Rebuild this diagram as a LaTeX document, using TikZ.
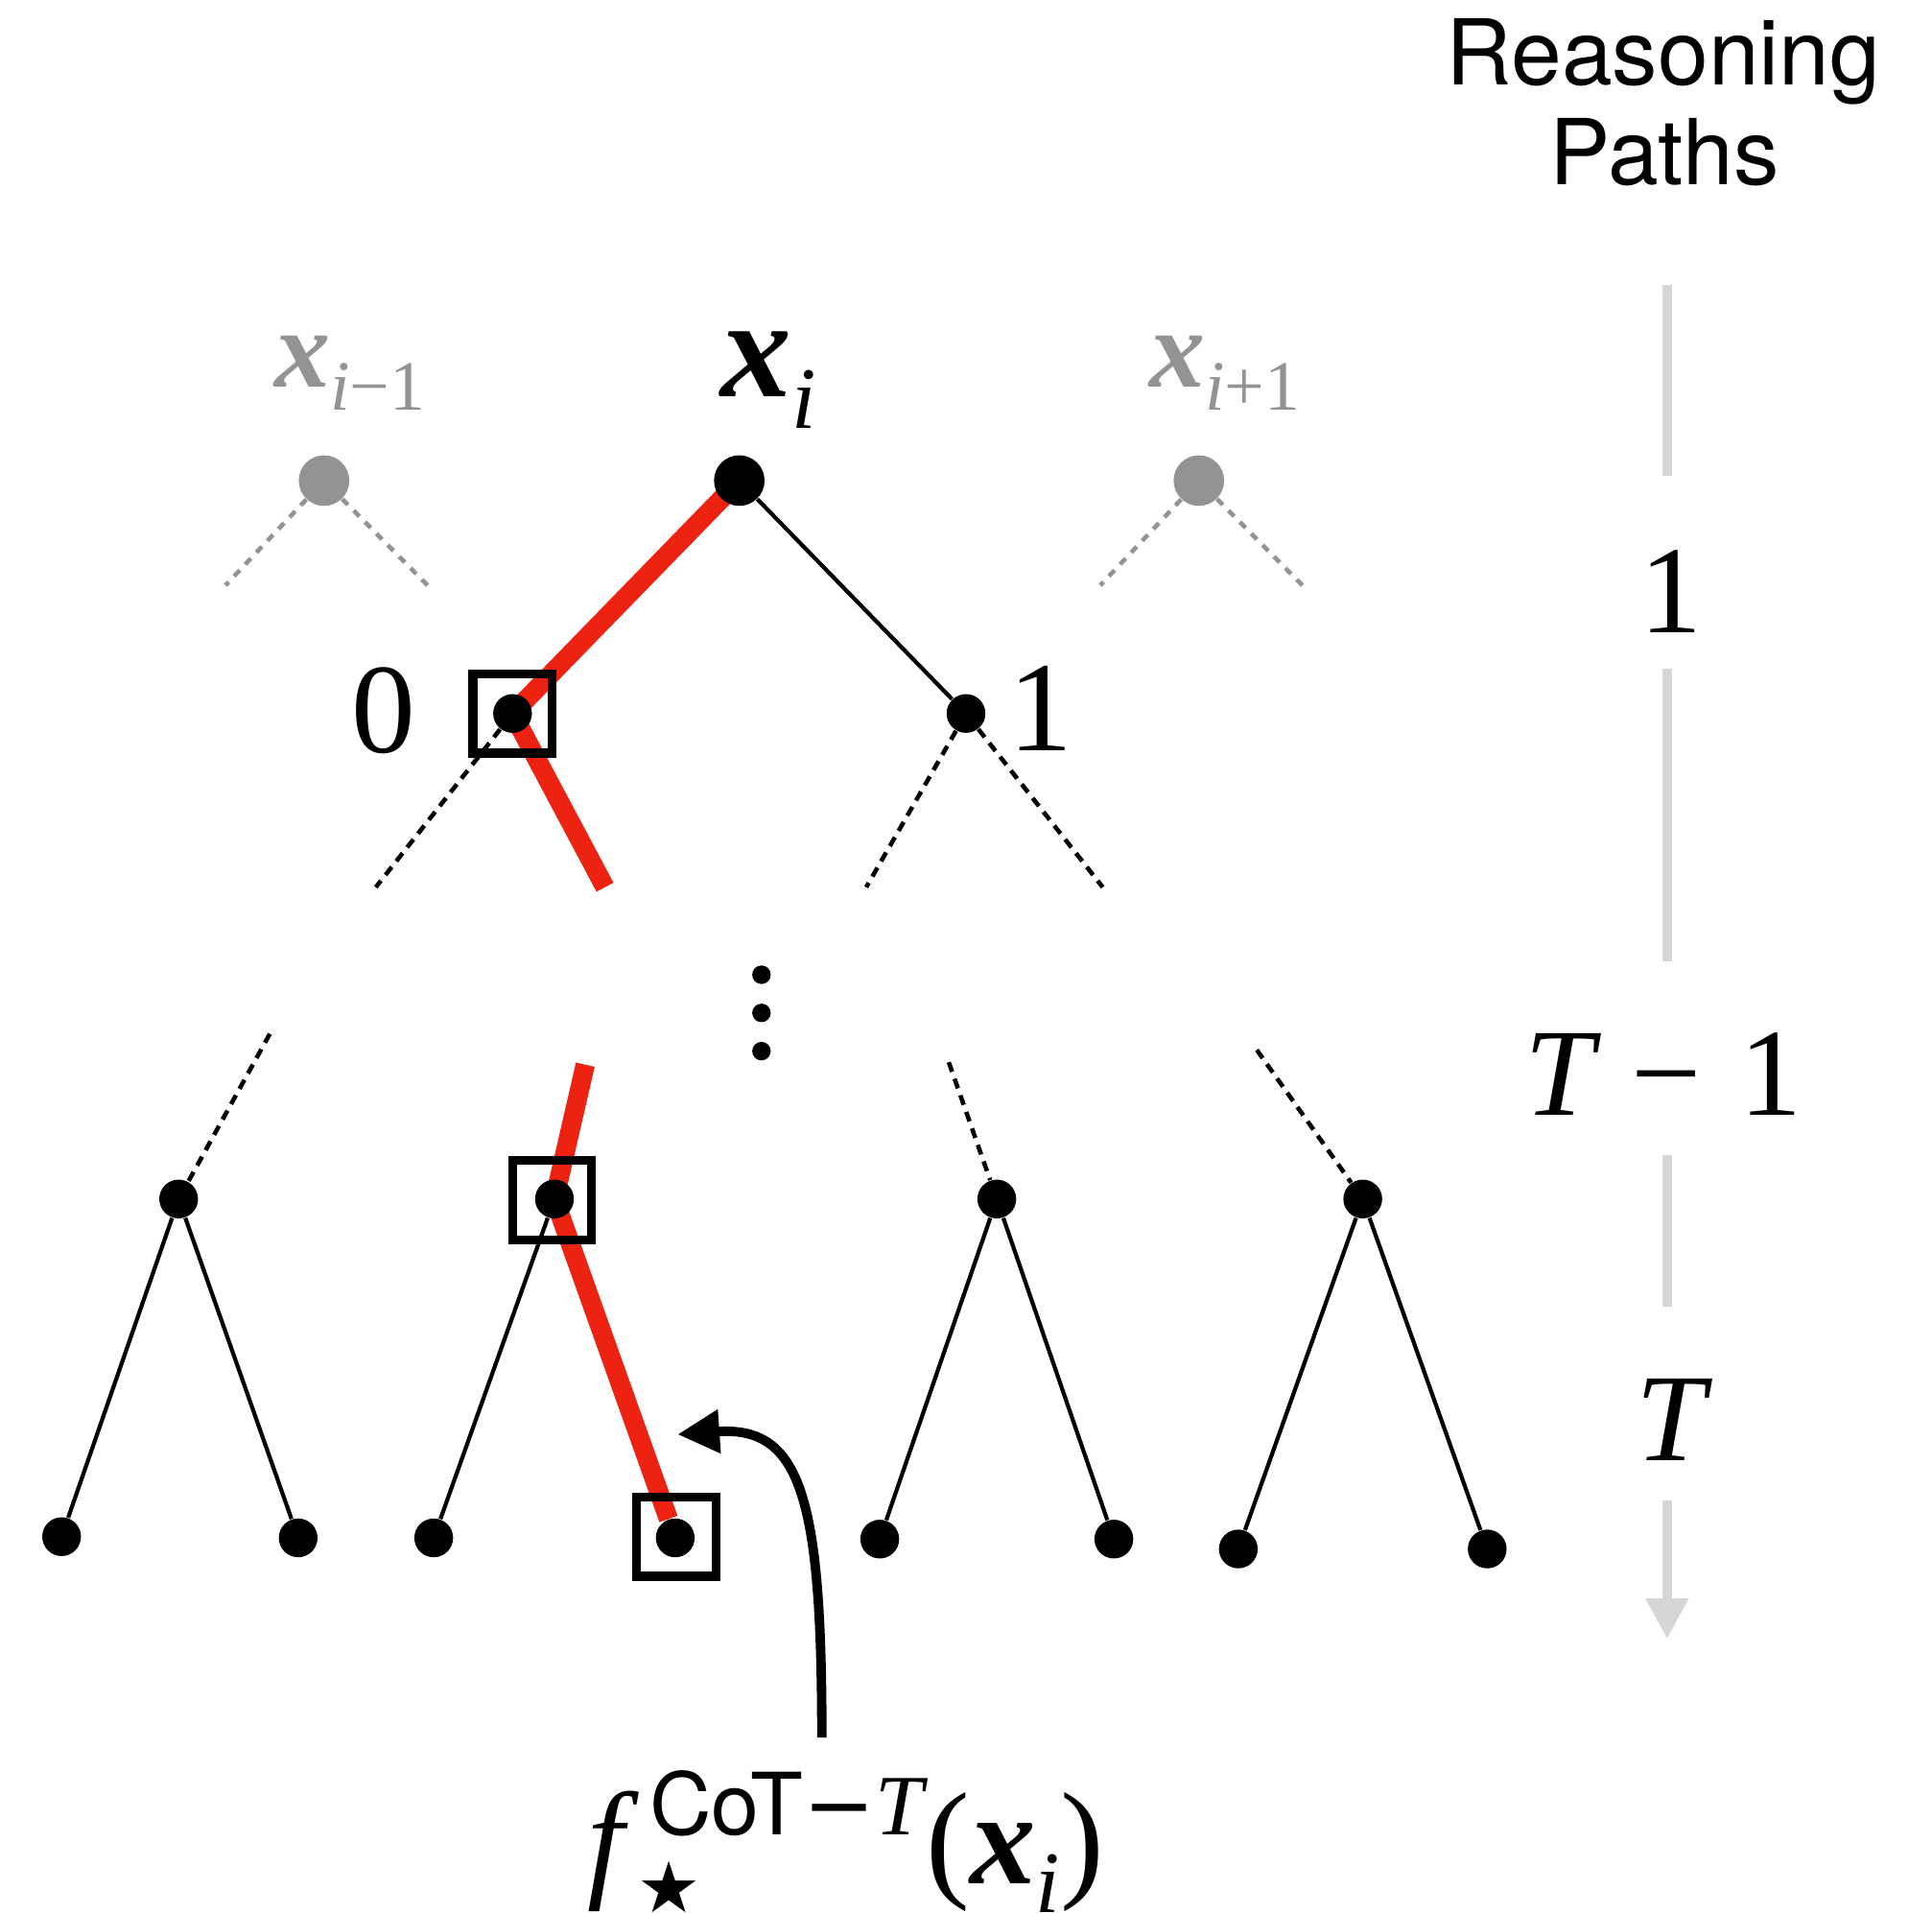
\documentclass[tikz,border=0pt]{standalone}
\usepackage{fontspec}
\setmainfont{Liberation Serif}
\newfontfamily\sansf{TeX Gyre Heros}
\newfontfamily\djv{DejaVu Sans}
\usetikzlibrary{arrows.meta}
\pgfdeclarelayer{bg}
\pgfsetlayers{bg,main}
\definecolor{redpath}{HTML}{EE2211}
\definecolor{ghost}{HTML}{939393}
\definecolor{axisgray}{HTML}{D6D6D6}
\begin{document}
\begin{tikzpicture}[x=0.012844cm,y=-0.012844cm,
  dotn/.style={circle,fill=black,inner sep=0,minimum size=11.5pt},
  bigdot/.style={circle,fill=black,inner sep=0,minimum size=15pt},
  gdot/.style={circle,fill=ghost,inner sep=0,minimum size=15pt},
  tinydot/.style={circle,fill=black,inner sep=0,minimum size=5.5pt},
  treeline/.style={line width=1.2pt},
  dline/.style={line width=1.3pt,dash pattern=on 3pt off 2.2pt},
  gline/.style={line width=1.3pt,ghost,dash pattern=on 2.4pt off 2.4pt},
  redp/.style={line width=5.7pt,redpath},
  selbox/.style={draw,line width=2.6pt,inner sep=0,minimum size=23.5pt},
  axisline/.style={line width=2.9pt,axisgray},
  txt/.style={inner sep=0,outer sep=0}
]
\useasboundingbox (0,0) rectangle (1568,1552);

% top nodes
\node[gdot] (gl) at (263,390) {};
\node[bigdot] (root) at (600,390) {};
\node[gdot] (gr) at (973,390) {};
\coordinate (gl1) at (183,475);
\coordinate (gl2) at (347,475);
\coordinate (gr1) at (893,475);
\coordinate (gr2) at (1057,475);

% level 1
\node[dotn] (a) at (416,579) {};
\node[dotn] (b) at (784,579) {};
\coordinate (a1) at (305,720);
\coordinate (a2) at (491,720);
\coordinate (b1) at (703,720);
\coordinate (b2) at (895,720);

% vertical ellipsis
\node[tinydot] (v1) at (618,791) {};
\node[tinydot] (v2) at (618,822) {};
\node[tinydot] (v3) at (618,853) {};

% level T-1
\node[dotn] (c) at (145,973) {};
\node[dotn] (d) at (450,973) {};
\node[dotn] (e) at (809,973) {};
\node[dotn] (g) at (1106,973) {};
\coordinate (ct) at (219,839);
\coordinate (dt) at (475,864);
\coordinate (et) at (770,862);
\coordinate (gt) at (1020,852);

% leaves
\node[dotn] (c1) at (50,1247) {};
\node[dotn] (c2) at (242,1248) {};
\node[dotn] (d1) at (352,1248) {};
\node[dotn] (d2) at (548,1248) {};
\node[dotn] (e1) at (714,1249) {};
\node[dotn] (e2) at (904,1249) {};
\node[dotn] (g1) at (1005,1257) {};
\node[dotn] (g2) at (1207,1257) {};

% selection boxes
\node[selbox] (sa) at (416,579) {};
\node[selbox] (sd) at (448,974) {};
\node[selbox] (sd2) at (549,1247) {};

\begin{pgfonlayer}{bg}
  \draw[gline] (gl) -- (gl1);
  \draw[gline] (gl) -- (gl2);
  \draw[gline] (gr) -- (gr1);
  \draw[gline] (gr) -- (gr2);
  \draw[treeline] (root) -- (b);
  \draw[dline] (a) -- (a1);
  \draw[dline] (b) -- (b1);
  \draw[dline] (b) -- (b2);
  \draw[dline] (ct) -- (c);
  \draw[dline] (et) -- (e);
  \draw[dline] (gt) -- (g);
  \draw[treeline] (c) -- (c1);
  \draw[treeline] (c) -- (c2);
  \draw[treeline] (d) -- (d1);
  \draw[treeline] (e) -- (e1);
  \draw[treeline] (e) -- (e2);
  \draw[treeline] (g) -- (g1);
  \draw[treeline] (g) -- (g2);
  \draw[redp] (root.center) -- (a.center) -- (a2);
  \draw[redp] (dt) -- (d.center) -- (d2);
\end{pgfonlayer}

% labels of the tree
\node[txt,anchor=base west,text=ghost] (lxm) at (223,314)
  {\fontsize{33}{33}\selectfont\bfseries\itshape x\mdseries\raisebox{-7pt}{\fontsize{21}{21}\selectfont i\upshape −1}};
\node[txt,anchor=base west] (lxi) at (585,322)
  {\fontsize{42}{42}\selectfont\bfseries\itshape x\mdseries\raisebox{-9.5pt}{\fontsize{26}{26}\selectfont i}};
\node[txt,anchor=base west,text=ghost] (lxp) at (933,314)
  {\fontsize{33}{33}\selectfont\bfseries\itshape x\mdseries\raisebox{-7pt}{\fontsize{21}{21}\selectfont i\upshape +1}};
\node[txt,font=\fontsize{38}{38}\selectfont] (l0) at (311,577) {0};
\node[txt,font=\fontsize{38}{38}\selectfont] (l1) at (845,575) {1};

% curved arrow and result label
\coordinate (arrstart) at (667,1410);
\coordinate (arrtip) at (550,1164);
\draw[line width=2.8pt,-{Triangle[length=12.4pt,width=12.4pt]}]
  (arrstart) .. controls (667,1215) and (650,1157) .. (arrtip);
\node[txt,anchor=base west] (lf) at (477,1529)
  {\fontsize{39}{39}\selectfont\itshape f\rlap{\hspace{4pt}\raisebox{-8.5pt}{\upshape\djv\fontsize{21}{21}\selectfont ★}}\hspace{7.5pt}\raisebox{14.5pt}{\upshape\fontsize{25.5}{25.5}\selectfont{\sansf CoT}{\djv −}\itshape T}\hspace{1pt}\upshape(\bfseries\itshape x\mdseries\raisebox{-8.5pt}{\fontsize{26}{26}\selectfont i}\upshape)};

% right column
\node[txt,anchor=base,font=\sansf\fontsize{27}{27}\selectfont] (rt1) at (1350,69) {Reasoning};
\node[txt,anchor=base,font=\sansf\fontsize{27}{27}\selectfont] (rt2) at (1351,150) {Paths};
\coordinate (ax1a) at (1353,231);
\coordinate (ax1b) at (1353,386);
\coordinate (ax2a) at (1353,543);
\coordinate (ax2b) at (1353,780);
\coordinate (ax3a) at (1353,937);
\coordinate (ax3b) at (1353,1060);
\coordinate (ax4a) at (1353,1218);
\coordinate (ax4b) at (1353,1330);
\draw[axisline] (ax1a) -- (ax1b);
\draw[axisline] (ax2a) -- (ax2b);
\draw[axisline] (ax3a) -- (ax3b);
\draw[axisline,-{Triangle[length=12pt,width=12pt]}] (ax4a) -- (ax4b);
\node[txt,font=\fontsize{37}{37}\selectfont] (ra) at (1356,480) {1};
\node[txt,font=\fontsize{37}{37}\selectfont] (rb) at (1350,872) {\itshape T\upshape\hspace{0.3em}−\hspace{0.3em}1};
\node[txt,font=\fontsize{37}{37}\selectfont] (rc) at (1356,1152) {\itshape T};
\end{tikzpicture}
\end{document}
